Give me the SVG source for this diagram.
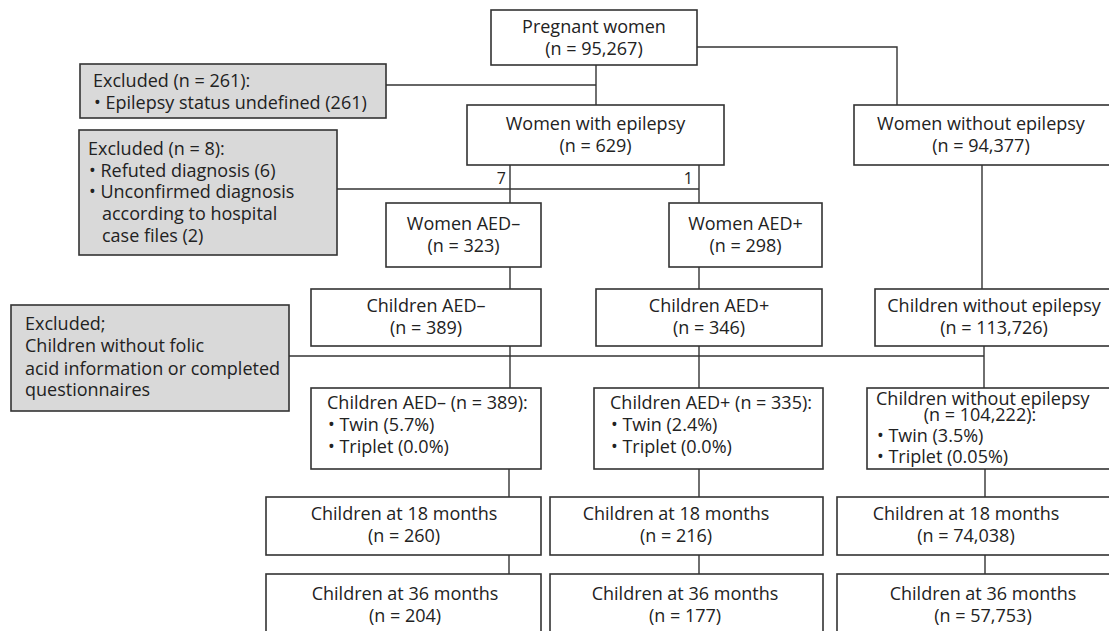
<svg xmlns="http://www.w3.org/2000/svg" width="1109" height="631" viewBox="0 0 1109 631">
<style>
.box{fill:#ffffff;stroke:#333333;stroke-width:1.6}
.ex{fill:#d9d9d9;stroke:#333333;stroke-width:1.6}
text{font-family:"Open Sans","Noto Sans","DejaVu Sans",sans-serif;font-size:18px;fill:#222222}
.c{text-anchor:middle}
.lbl{font-size:16px;text-anchor:end}
.edge{fill:none;stroke:#333333;stroke-width:1.4}
</style>
<rect width="1109" height="631" fill="#ffffff"/>
<g id="connectors">
<path class="edge" d="M596,65 V105"/>
<path class="edge" d="M386,85 H596"/>
<path class="edge" d="M697,47 H897 V105"/>
<path class="edge" d="M510,165 V203"/>
<path class="edge" d="M699,165 V203"/>
<path class="edge" d="M337,189 H699"/>
<path class="edge" d="M510,267 V289"/>
<path class="edge" d="M699,267 V289"/>
<path class="edge" d="M982,165 V289"/>
<path class="edge" d="M510,346 V388"/>
<path class="edge" d="M699,346 V388"/>
<path class="edge" d="M984,346 V388"/>
<path class="edge" d="M289,356 H984"/>
<path class="edge" d="M509,469 V497"/>
<path class="edge" d="M699,469 V497"/>
<path class="edge" d="M985,469 V497"/>
<path class="edge" d="M509,555 V574"/>
<path class="edge" d="M699,555 V574"/>
<path class="edge" d="M985,555 V574"/>
<text class="lbl" x="506" y="184">7</text>
<text class="lbl" x="693" y="184">1</text>
</g>
<g id="pregnant">
<rect class="box" x="491" y="10" width="206" height="55"/>
<text class="c" x="594" y="32.5">Pregnant women</text>
<text class="c" x="594" y="54.5">(n = 95,267)</text>
</g>
<g id="excluded261">
<rect class="ex" x="80" y="64" width="306" height="54"/>
<text x="93" y="87">Excluded (n = 261):</text>
<text x="94" y="108.5">• Epilepsy status undefined (261)</text>
</g>
<g id="excluded8">
<rect class="ex" x="79" y="130" width="258" height="125"/>
<text x="88" y="155">Excluded (n = 8):</text>
<text x="89" y="176.5">• Refuted diagnosis (6)</text>
<text x="89" y="198">• Unconfirmed diagnosis</text>
<text x="102" y="220">according to hospital</text>
<text x="102" y="241.5">case files (2)</text>
</g>
<g id="women-epilepsy">
<rect class="box" x="467" y="105" width="257" height="60"/>
<text class="c" x="595.5" y="130">Women with epilepsy</text>
<text class="c" x="595.5" y="152">(n = 629)</text>
</g>
<g id="women-no-epilepsy">
<rect class="box" x="854" y="105" width="258" height="60"/>
<text class="c" x="981" y="130">Women without epilepsy</text>
<text class="c" x="981" y="152">(n = 94,377)</text>
</g>
<g id="women-aed-minus">
<rect class="box" x="386" y="203" width="155" height="64"/>
<text class="c" x="463.5" y="230">Women AED–</text>
<text class="c" x="463.5" y="252">(n = 323)</text>
</g>
<g id="women-aed-plus">
<rect class="box" x="669" y="203" width="153" height="64"/>
<text class="c" x="745.5" y="230">Women AED+</text>
<text class="c" x="745.5" y="252">(n = 298)</text>
</g>
<g id="children-aed-minus">
<rect class="box" x="311" y="289" width="230" height="57"/>
<text class="c" x="426" y="312">Children AED–</text>
<text class="c" x="426" y="334">(n = 389)</text>
</g>
<g id="children-aed-plus">
<rect class="box" x="596" y="289" width="226" height="57"/>
<text class="c" x="709" y="312">Children AED+</text>
<text class="c" x="709" y="334">(n = 346)</text>
</g>
<g id="children-no-epilepsy">
<rect class="box" x="875" y="289" width="237" height="57"/>
<text class="c" x="994" y="312">Children without epilepsy</text>
<text class="c" x="994" y="334">(n = 113,726)</text>
</g>
<g id="excluded-children">
<rect class="ex" x="11" y="305" width="278" height="106"/>
<text x="25" y="330">Excluded;</text>
<text x="25" y="352">Children without folic</text>
<text x="25" y="374.5">acid information or completed</text>
<text x="25" y="396">questionnaires</text>
</g>
<g id="twins-aed-minus">
<rect class="box" x="311" y="388" width="230" height="81"/>
<text x="327" y="409">Children AED– (n = 389):</text>
<text x="328" y="431">• Twin (5.7%)</text>
<text x="328" y="453">• Triplet (0.0%)</text>
</g>
<g id="twins-aed-plus">
<rect class="box" x="594" y="388" width="229" height="81"/>
<text x="610" y="409">Children AED+ (n = 335):</text>
<text x="611" y="431">• Twin (2.4%)</text>
<text x="611" y="453">• Triplet (0.0%)</text>
</g>
<g id="twins-no-epilepsy">
<rect class="box" x="867" y="388" width="245" height="81"/>
<text x="876" y="405">Children without epilepsy</text>
<text class="c" x="980" y="420.5">(n = 104,222):</text>
<text x="877" y="442">• Twin (3.5%)</text>
<text x="877" y="463">• Triplet (0.05%)</text>
</g>
<g id="m18-aed-minus">
<rect class="box" x="266" y="497" width="275" height="58"/>
<text class="c" x="404" y="520">Children at 18 months</text>
<text class="c" x="404" y="542">(n = 260)</text>
</g>
<g id="m18-aed-plus">
<rect class="box" x="550" y="497" width="273" height="58"/>
<text class="c" x="676" y="520">Children at 18 months</text>
<text class="c" x="676" y="542">(n = 216)</text>
</g>
<g id="m18-no-epilepsy">
<rect class="box" x="837" y="497" width="275" height="58"/>
<text class="c" x="966" y="520">Children at 18 months</text>
<text class="c" x="966" y="542">(n = 74,038)</text>
</g>
<g id="m36-aed-minus">
<rect class="box" x="266" y="574" width="275" height="61"/>
<text class="c" x="405" y="600">Children at 36 months</text>
<text class="c" x="405" y="622">(n = 204)</text>
</g>
<g id="m36-aed-plus">
<rect class="box" x="550" y="574" width="273" height="61"/>
<text class="c" x="685" y="600">Children at 36 months</text>
<text class="c" x="685" y="622">(n = 177)</text>
</g>
<g id="m36-no-epilepsy">
<rect class="box" x="837" y="574" width="275" height="61"/>
<text class="c" x="983" y="600">Children at 36 months</text>
<text class="c" x="983" y="622">(n = 57,753)</text>
</g>
</svg>
